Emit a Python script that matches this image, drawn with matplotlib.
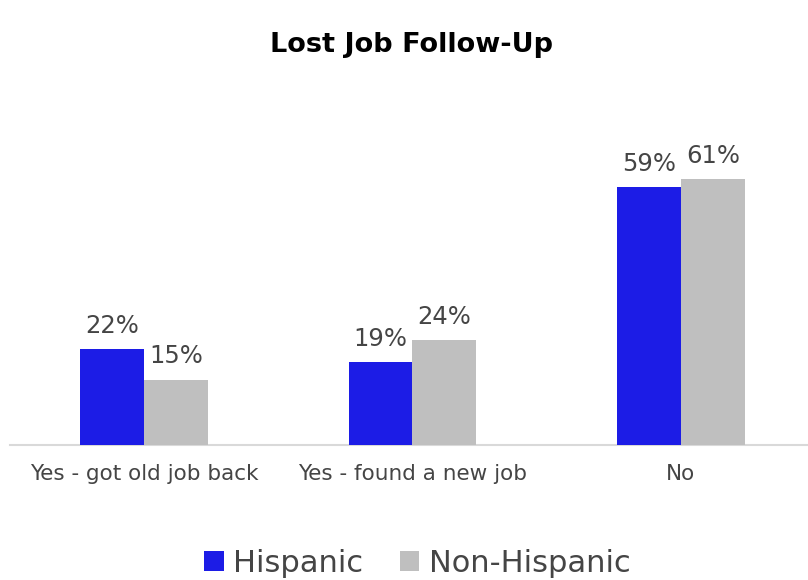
import matplotlib
matplotlib.use("Agg")
import matplotlib.pyplot as plt
import numpy as np

CATEGORIES = ["Yes - got old job back", "Yes - found a new job", "No"]
HISPANIC = [22, 19, 59]
NON_HISPANIC = [15, 24, 61]
SERIES_LABELS = ["Hispanic", "Non-Hispanic"]

BLUE = "#1C1CE6"
GREY = "#BFBFBF"
TEXT = "#454545"

plt.rcParams["font.family"] = ["DejaVu Sans"]

fig = plt.figure(figsize=(8.08, 5.80), dpi=100)
ax = fig.add_axes([10 / 808, 135 / 580, 805 / 808, 310 / 580])

x = np.arange(len(CATEGORIES))
width = 0.238
b1 = ax.bar(x - width / 2, HISPANIC, width, color=BLUE, label=SERIES_LABELS[0], zorder=3)
b2 = ax.bar(x + width / 2, NON_HISPANIC, width, color=GREY, label=SERIES_LABELS[1], zorder=3)

for bars, vals in ((b1, HISPANIC), (b2, NON_HISPANIC)):
    for rect, v in zip(bars, vals):
        ax.annotate(f"{v}%", (rect.get_x() + rect.get_width() / 2, rect.get_height()),
                    xytext=(0, 8), textcoords="offset points",
                    ha="center", va="bottom", fontsize=17.5, color=TEXT)

ax.set_xlim(-0.5, 2.5)
ax.set_ylim(0, 71)
ax.set_xticks(x)
ax.set_xticklabels(CATEGORIES, fontsize=15.5, color=TEXT)
ax.tick_params(axis="x", length=0, pad=14)
ax.set_yticks([])
for name, spine in ax.spines.items():
    spine.set_visible(name == "bottom")
ax.spines["bottom"].set_color("#D9D9D9")
ax.spines["bottom"].set_linewidth(1.5)

fig.text(412 / 808, 1 - 45 / 580, "Lost Job Follow-Up", ha="center", va="center",
         fontsize=19.5, fontweight="bold", color="black")

fig.legend(handles=[b1, b2], loc="center", bbox_to_anchor=(417 / 808, 1 - 563 / 580),
           ncol=2, frameon=False, fontsize=22, handlelength=0.65, handleheight=0.65,
           handletextpad=0.3, columnspacing=1.2, labelcolor=TEXT)

fig.savefig("out.png", dpi=100)
